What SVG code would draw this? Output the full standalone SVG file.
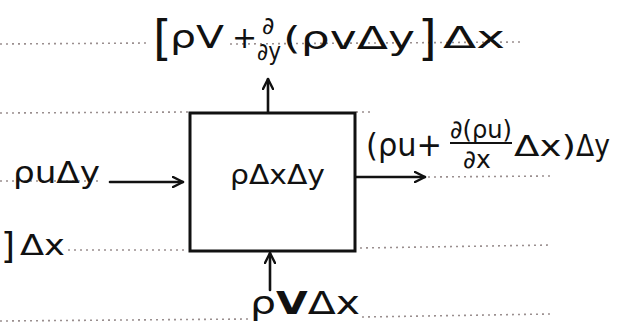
<svg xmlns="http://www.w3.org/2000/svg" width="621" height="336" viewBox="0 0 621 336">
<defs>
<style>
.rule{stroke:#9a8f8f;stroke-width:1.6;stroke-dasharray:2 4;fill:none}
.ink{stroke:#111;stroke-width:2.6;fill:none;stroke-linecap:round}
.t{font-family:"DejaVu Sans","Liberation Sans",sans-serif;fill:#111}
</style>
<marker id="ah" viewBox="0 0 12 12" refX="11" refY="6" markerWidth="12" markerHeight="12" markerUnits="userSpaceOnUse" orient="auto">
<path d="M1,1 L11,6 L1,11" fill="none" stroke="#111" stroke-width="2.4" stroke-linecap="round" stroke-linejoin="round"/>
</marker>
</defs>
<rect width="621" height="336" fill="#fff"/>
<g id="ruling">
<line class="rule" x1="0" y1="44" x2="150" y2="43"/>
<line class="rule" x1="230" y1="44" x2="520" y2="42"/>
<line class="rule" x1="0" y1="113" x2="190" y2="112"/>
<line class="rule" x1="356" y1="112" x2="370" y2="112"/>
<line class="rule" x1="0" y1="181" x2="100" y2="181"/>
<line class="rule" x1="200" y1="181" x2="230" y2="181"/>
<line class="rule" x1="325" y1="181" x2="350" y2="181"/>
<line class="rule" x1="428" y1="177" x2="550" y2="176"/>
<line class="rule" x1="68" y1="250" x2="188" y2="250"/>
<line class="rule" x1="360" y1="248" x2="552" y2="245"/>
<line class="rule" x1="0" y1="321" x2="250" y2="319"/>
<line class="rule" x1="362" y1="317" x2="550" y2="314"/>
</g>
<g id="connectors">
<line class="ink" x1="110" y1="182" x2="183" y2="182" marker-end="url(#ah)"/>
<line class="ink" x1="356" y1="177" x2="425" y2="177" marker-end="url(#ah)"/>
<line class="ink" x1="268" y1="112" x2="268" y2="79" marker-end="url(#ah)"/>
<line class="ink" x1="270" y1="290" x2="270" y2="253" marker-end="url(#ah)"/>
</g>
<g id="control-volume">
<rect x="190" y="113" width="165" height="138" fill="#fff" stroke="#111" stroke-width="3"/>
<text class="t" x="230" y="184" font-size="26" textLength="95" lengthAdjust="spacingAndGlyphs">ρΔxΔy</text>
</g>
<g id="flux-top">
<text class="t" x="153" y="55" font-size="48">[</text>
<text class="t" x="170" y="48" font-size="32" textLength="54" lengthAdjust="spacingAndGlyphs">ρV</text>
<text class="t" x="232" y="48" font-size="30">+</text>
<text class="t" x="262" y="34" font-size="24">∂</text>
<text class="t" x="257" y="60" font-size="24" textLength="24" lengthAdjust="spacingAndGlyphs">∂y</text>
<text class="t" x="283" y="49" font-size="32" textLength="132" lengthAdjust="spacingAndGlyphs">(ρvΔy</text>
<text class="t" x="418" y="55" font-size="48">]</text>
<text class="t" x="443" y="48" font-size="30" textLength="62" lengthAdjust="spacingAndGlyphs">Δx</text>
</g>
<g id="flux-right">
<text class="t" x="366" y="156" font-size="32" textLength="76" lengthAdjust="spacingAndGlyphs">(ρu+</text>
<text class="t" x="450" y="138" font-size="25" textLength="62" lengthAdjust="spacingAndGlyphs">∂(ρu)</text>
<line x1="450" y1="143" x2="512" y2="143" stroke="#111" stroke-width="2"/>
<text class="t" x="463" y="168" font-size="25">∂x</text>
<text class="t" x="514" y="156" font-size="28" textLength="62" lengthAdjust="spacingAndGlyphs">Δx)</text>
<text class="t" x="576" y="156" font-size="30" textLength="34" lengthAdjust="spacingAndGlyphs">Δy</text>
</g>
<g id="flux-left">
<text class="t" x="13" y="183" font-size="30" textLength="87" lengthAdjust="spacingAndGlyphs">ρuΔy</text>
</g>
<g id="flux-left-lower">
<text class="t" x="1" y="258" font-size="36">]</text>
<text class="t" x="20" y="255" font-size="28" textLength="45" lengthAdjust="spacingAndGlyphs">Δx</text>
</g>
<g id="flux-bottom">
<text class="t" x="250" y="314" font-size="32" textLength="110" lengthAdjust="spacingAndGlyphs">ρ<tspan font-weight="bold">V</tspan>Δx</text>
</g>
</svg>
